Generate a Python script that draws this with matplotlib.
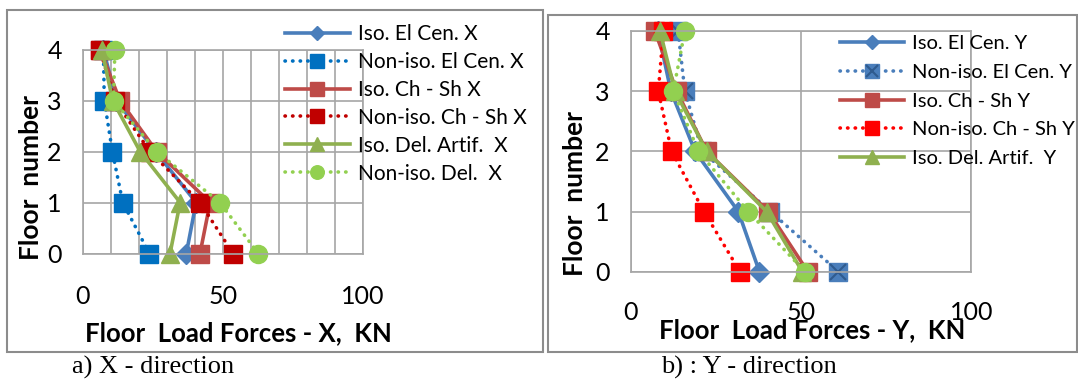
import matplotlib
matplotlib.use("Agg")
import matplotlib.pyplot as plt
from matplotlib.patches import Rectangle
from matplotlib.legend_handler import HandlerTuple

# ---------------- data (floor 0..4) ----------------
floors = [0, 1, 2, 3, 4]

x_iso_elcen = [37.0, 40.5, 26.0, 12.0, 7.4]
x_non_elcen = [23.8, 14.3, 10.6, 7.7, 7.4]
x_iso_chsh = [41.9, 45.5, 26.4, 13.3, 6.2]
x_non_chsh = [53.7, 41.9, 24.0, 11.5, 6.2]
x_iso_del = [31.2, 34.8, 20.5, 10.7, 6.8]
x_non_del = [62.7, 49.0, 26.4, 11.0, 11.5]

y_iso_elcen = [37.8, 31.6, 18.9, 11.8, 8.0]
y_non_elcen = [61.0, 41.0, 21.0, 15.9, 13.9]
y_iso_chsh = [52.0, 40.4, 22.3, 13.5, 7.1]
y_non_chsh = [32.1, 21.5, 12.0, 8.1, 9.6]
y_iso_del = [50.4, 39.9, 22.3, 13.0, 8.6]
y_non_del = [51.2, 34.5, 19.9, 12.5, 15.9]

x_ticks = [0, 50, 100]

# ---------------- style ----------------
BLUE = "#4a7ebb"
BLUE2 = "#0070c0"
BROWN = "#be4b48"
DRED = "#c00000"
RED = "#ff0000"
GREEN = "#8fb04f"
LGREEN = "#92d050"
GRID = "#a6a6a6"
FONT = ["Lato", "DejaVu Sans"]
DOT = (0, (0.1, 2.0))

plt.rcParams["font.family"] = FONT

W, H = 1078, 381
fig = plt.figure(figsize=(W / 100, H / 100), dpi=100)


def fx(px):
    return px / W


def fy(py):
    return 1 - py / H


def draw(ax, y, color, ls, marker, ms, label, mec=None):
    dash = {"dash_capstyle": "round"} if ls != "-" else {}
    ln, = ax.plot(y, floors, color=color, lw=2.6, ls=ls, marker=marker, ms=ms,
                  mfc=color, mec=mec or color, clip_on=False, label=label, **dash)
    return ln


def style_axes(ax, minor_grid, xpad):
    ax.set_xlim(0, 100)
    ax.set_ylim(0, 4)
    ax.set_xticks(x_ticks)
    if minor_grid:
        ax.set_xticks(range(0, 101, 10), minor=True)
        ax.grid(True, which="minor", axis="x", color=GRID, lw=1.2)
    ax.set_yticks(floors)
    ax.grid(True, which="major", color=GRID, lw=1.2)
    ax.tick_params(axis="x", which="both", length=0, pad=xpad, labelsize=18)
    ax.tick_params(axis="y", length=0, pad=15, labelsize=18)
    for s in ax.spines.values():
        s.set_color(GRID)
        s.set_linewidth(1.2)
    ax.set_axisbelow(True)


# ---------------- panel a) X ----------------
axL = fig.add_axes([fx(82.7), fy(253.5), 280 / W, 204 / H])
style_axes(axL, True, 23)
hL = [
    draw(axL, x_iso_elcen, BLUE, "-", "D", 10, "Iso. El Cen. X"),
    draw(axL, x_non_elcen, BLUE2, DOT, "s", 13, "Non-iso. El Cen. X"),
    draw(axL, x_iso_chsh, BROWN, "-", "s", 13, "Iso. Ch - Sh X"),
    draw(axL, x_non_chsh, DRED, DOT, "s", 13, "Non-iso. Ch - Sh X"),
    draw(axL, x_iso_del, GREEN, "-", "^", 13, "Iso. Del. Artif.  X"),
    draw(axL, x_non_del, LGREEN, DOT, "o", 13, "Non-iso. Del.  X"),
]
fig.legend(handles=hL, loc="upper left", bbox_to_anchor=(fx(285), fy(24)),
           frameon=False, fontsize=15, handlelength=3.1, handletextpad=0.4,
           labelspacing=0.38, markerscale=0.75, borderaxespad=0, borderpad=0)
fig.text(fx(31), fy(177), "Floor  number", rotation=90, ha="center", va="center",
         fontsize=19, fontweight="bold")
fig.text(fx(238), fy(333), "Floor  Load Forces - X,  KN", ha="center", va="center",
         fontsize=18.5, fontweight="bold")

# ---------------- panel b) Y ----------------
axR = fig.add_axes([fx(630.7), fy(271.7), 340.6 / W, 240.7 / H])
style_axes(axR, False, 21)
hR = [
    draw(axR, y_iso_elcen, BLUE, "-", "D", 10, "Iso. El Cen. Y"),
]
sq = draw(axR, y_non_elcen, BLUE, DOT, "s", 13, "Non-iso. El Cen. Y")
xm, = axR.plot(y_non_elcen, floors, ls="none", marker="x", ms=11, mew=1.5,
               color="#2f5b8f", clip_on=False)
hR += [
    draw(axR, y_iso_chsh, BROWN, "-", "s", 13, "Iso. Ch - Sh Y"),
    draw(axR, y_non_chsh, RED, DOT, "s", 13, "Non-iso. Ch - Sh Y"),
    draw(axR, y_iso_del, GREEN, "-", "^", 13, "Iso. Del. Artif.  Y"),
]
draw(axR, y_non_del, LGREEN, DOT, "o", 13, None)
hR.insert(1, (sq, xm))
labelsR = ["Iso. El Cen. Y", "Non-iso. El Cen. Y", "Iso. Ch - Sh Y",
           "Non-iso. Ch - Sh Y", "Iso. Del. Artif.  Y"]
fig.legend(hR, labelsR, loc="upper left", bbox_to_anchor=(fx(840), fy(35)),
           frameon=False, fontsize=14.5, handlelength=3.2, handletextpad=0.4,
           labelspacing=0.58, markerscale=0.75, borderaxespad=0, borderpad=0,
           handler_map={tuple: HandlerTuple(ndivide=1, pad=0)})
fig.text(fx(575), fy(194), "Floor  number", rotation=90, ha="center", va="center",
         fontsize=19, fontweight="bold")
fig.text(fx(812), fy(330), "Floor  Load Forces - Y,  KN", ha="center", va="center",
         fontsize=18.5, fontweight="bold")

# ---------------- frames and captions ----------------
fig.patches.append(Rectangle((fx(7), fy(352)), fx(536), 342 / H, transform=fig.transFigure,
                             fill=False, ec="#8c8c8c", lw=1.5))
fig.patches.append(Rectangle((fx(548), fy(352)), fx(529), 337 / H, transform=fig.transFigure,
                             fill=False, ec="#8c8c8c", lw=1.5))
fig.text(fx(72), fy(367), "a) X - direction", ha="left", va="center",
         fontsize=19, family="Liberation Serif")
fig.text(fx(661), fy(367), "b) : Y - direction", ha="left", va="center",
         fontsize=19, family="Liberation Serif")

fig.savefig("out.png", dpi=100)
